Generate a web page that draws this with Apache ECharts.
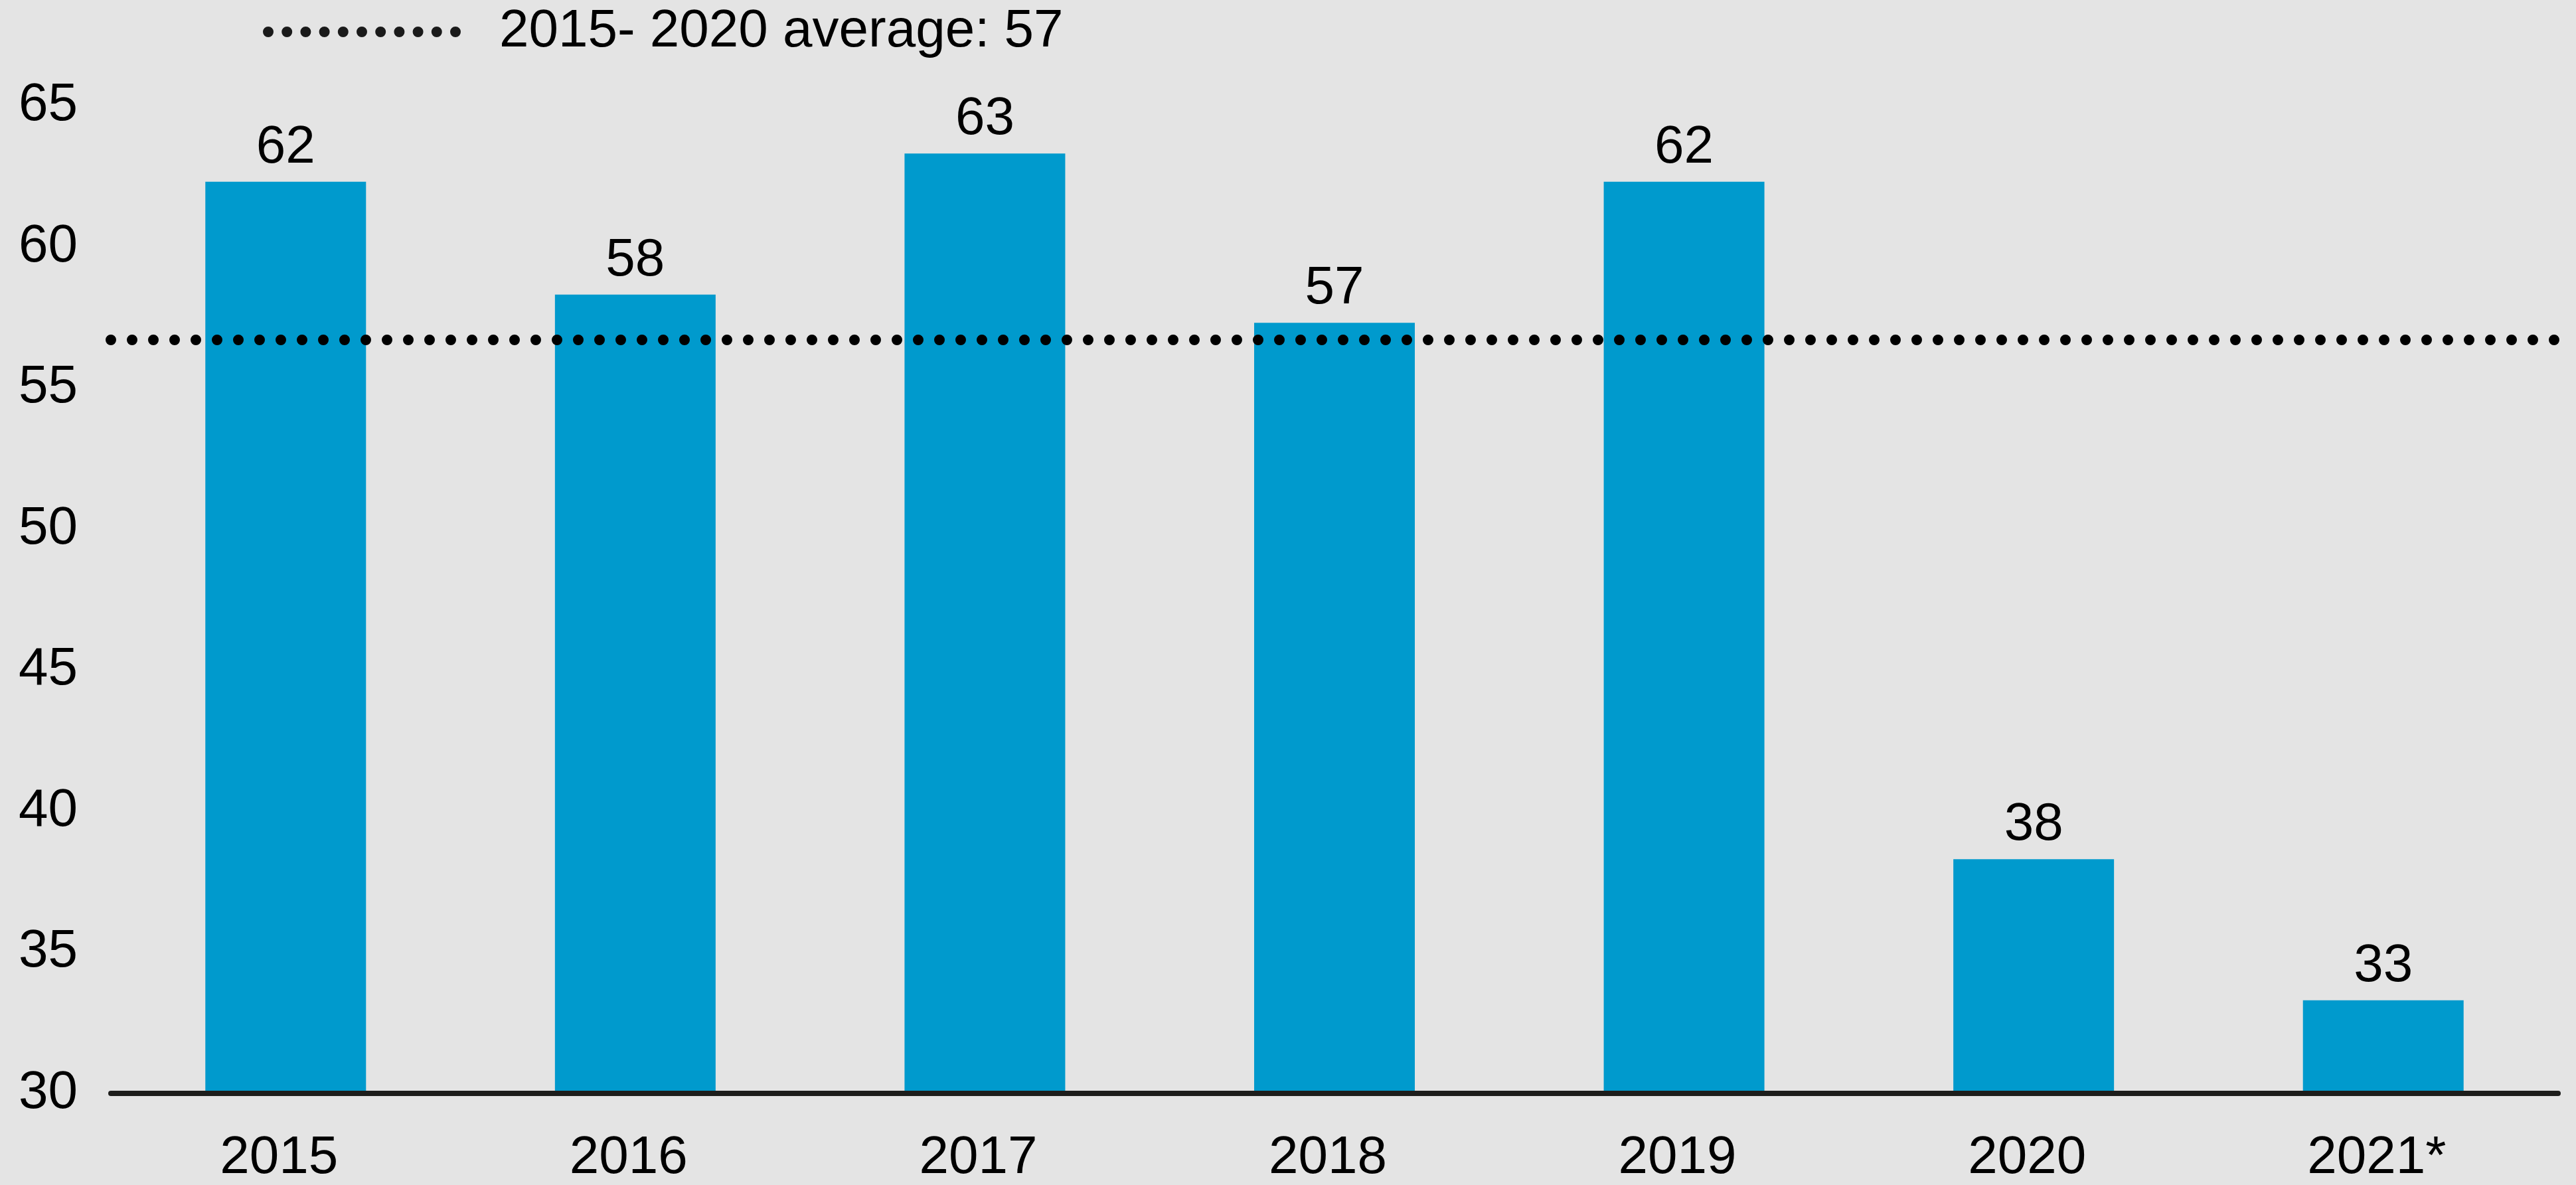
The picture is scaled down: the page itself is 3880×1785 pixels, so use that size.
<!DOCTYPE html>
<html>
<head>
<meta charset="utf-8">
<script src="https://cdn.jsdelivr.net/npm/echarts@6/dist/echarts.min.js"></script>
<style>
html,body{margin:0;padding:0;background:#e4e4e4;}
#chart{width:3880px;height:1785px;}
</style>
</head>
<body>
<div id="chart"></div>
<script>
const categories = ['2015', '2016', '2017', '2018', '2019', '2020', '2021*'];
const values = [62.3, 58.3, 63.3, 57.3, 62.3, 38.3, 33.3];
const averageValue = 56.7;
const averageName = '2015- 2020 average: 57';
const yTicks = { min: 30, max: 65, interval: 5 };

const FONT = '"Liberation Sans", Arial, Helvetica, sans-serif';
const chart = echarts.init(document.getElementById('chart'));
chart.setOption({
  backgroundColor: '#e4e4e4',
  animation: false,
  textStyle: { fontFamily: FONT },
  grid: { left: 167, right: 27, top: 159, bottom: 138, containLabel: false },
  legend: {
    show: true,
    data: [averageName],
    left: 396,
    top: 8,
    padding: 0,
    itemWidth: 310,
    itemHeight: 16,
    itemStyle: { opacity: 0 },
    lineStyle: { color: '#1a1a1a', width: 16, type: [0, 28.2], cap: 'round', opacity: 1 },
    textStyle: { fontSize: 80, color: '#000', fontFamily: FONT, padding: [0, 0, 0, 33] }
  },
  xAxis: {
    type: 'category',
    data: categories,
    z: 10,
    axisLine: { show: true, lineStyle: { color: '#1d1d1b', width: 8 } },
    axisTick: { show: false },
    axisLabel: { fontSize: 80, color: '#000', margin: 58, fontFamily: FONT, padding: [0, 20, 0, 0] },
    splitLine: { show: false }
  },
  yAxis: {
    type: 'value',
    min: yTicks.min,
    max: yTicks.max,
    interval: yTicks.interval,
    axisLine: { show: false },
    axisTick: { show: false },
    splitLine: { show: false },
    axisLabel: { fontSize: 80, color: '#000', margin: 50, fontFamily: FONT }
  },
  series: [
    {
      name: 'values',
      type: 'bar',
      data: values,
      barWidth: 242,
      itemStyle: { color: '#009acd' },
      label: {
        show: true,
        position: 'top',
        distance: 11,
        fontSize: 80,
        color: '#000',
        fontFamily: FONT,
        formatter: p => Math.round(p.value)
      },
      markLine: {
        silent: true,
        symbol: 'none',
        label: { show: false },
        lineStyle: { color: '#000', width: 16, type: [0, 32], cap: 'round' },
        data: [{ yAxis: averageValue }]
      }
    },
    {
      name: averageName,
      type: 'line',
      data: [],
      symbol: 'none',
      lineStyle: { color: '#1a1a1a', width: 16, type: [0, 28.2], cap: 'round' },
      itemStyle: { color: '#1a1a1a' }
    }
  ]
});
</script>
</body>
</html>
